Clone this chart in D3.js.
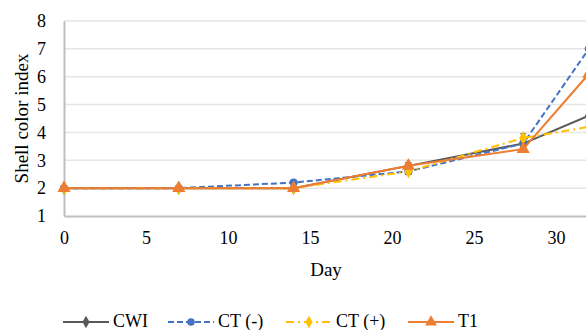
<!DOCTYPE html>
<html>
<head>
<meta charset="utf-8">
<script src="https://cdn.jsdelivr.net/npm/d3@7"></script>
<style>
  body { margin: 0; background: #fff; }
  svg text { font-family: "Liberation Serif", "DejaVu Serif", serif !important; fill: #000; }
</style>
</head>
<body>
<svg></svg>
<script>
let width = 586;
let height = 330;

// data
let days = [0, 7, 14, 21, 28, 32];
let seriesNames = ['CWI', 'CT (-)', 'CT (+)', 'T1'];
let cwi = [2, 2, 2, 2.8, 3.6, 4.6];
let ctMinus = [2, 2, 2.2, 2.6, 3.6, 7.0];
let ctPlus = [2, 2, 2, 2.6, 3.8, 4.2];
let t1 = [2, 2, 2, 2.8, 3.4, 6.1];
let cwiErr = [0, 0, 0, 0.12, 0.1, 0.2];
let ctMinusErr = [0, 0, 0.05, 0.1, 0.1, 0.2];
let ctPlusErr = [0, 0, 0, 0.1, 0.15, 0.2];
let t1Err = [0, 0, 0, 0.1, 0.1, 0.2];
let xTicks = [0, 5, 10, 15, 20, 25, 30];
let yTicks = [1, 2, 3, 4, 5, 6, 7, 8];

let series = [
    {name: seriesNames[0], values: cwi, err: cwiErr, color: '#595959', dash: null, marker: 'diamond'},
    {name: seriesNames[1], values: ctMinus, err: ctMinusErr, color: '#4472C4', dash: '6,3', marker: 'circle'},
    {name: seriesNames[2], values: ctPlus, err: ctPlusErr, color: '#FFC000', dash: '8,4,2,4', marker: 'diamond'},
    {name: seriesNames[3], values: t1, err: t1Err, color: '#ED7D31', dash: null, marker: 'triangle'}
];

let svg = d3.select('svg')
    .attr('width', width)
    .attr('height', height);

let x = d3.scaleLinear().domain([0, 35]).range([64, 638]);
let y = d3.scaleLinear().domain([1, 8]).range([216, 21]);

// gridlines
svg.append('g')
    .selectAll('line')
    .data(yTicks.slice(1))
    .enter()
    .append('line')
    .attr('x1', x(0)).attr('x2', width)
    .attr('y1', d => y(d)).attr('y2', d => y(d))
    .attr('stroke', '#e6e6e6')
    .attr('stroke-width', 1.5);

// axes
let xAxis = svg.append('g')
    .attr('transform', `translate(0, ${y(1)})`)
    .call(d3.axisBottom(x).tickValues(xTicks).tickSize(0).tickPadding(15));
xAxis.select('.domain').attr('stroke', '#bfbfbf').attr('stroke-width', 2);
xAxis.selectAll('text').style('font-size', '18px');

let yAxis = svg.append('g')
    .attr('transform', `translate(${x(0)}, 0)`)
    .call(d3.axisLeft(y).tickValues(yTicks).tickFormat(d3.format('d')).tickSize(0).tickPadding(18));
yAxis.select('.domain').attr('stroke', '#bfbfbf').attr('stroke-width', 2);
yAxis.selectAll('text').style('font-size', '18px');

// axis titles
svg.append('text')
    .attr('x', 326).attr('y', 276)
    .attr('text-anchor', 'middle')
    .style('font-size', '19px')
    .text('Day');

svg.append('text')
    .attr('transform', `translate(28, ${y(4.5)}) rotate(-90)`)
    .attr('text-anchor', 'middle')
    .style('font-size', '19px')
    .text('Shell color index');

function markerPath(type, size) {
    if (type === 'diamond') return d3.symbol().type(d3.symbolDiamond).size(size)();
    if (type === 'triangle') return d3.symbol().type(d3.symbolTriangle).size(size)();
    return d3.symbol().type(d3.symbolCircle).size(size)();
}

let line = d3.line()
    .x((d, i) => x(days[i]))
    .y(d => y(d));

let plot = svg.append('g');

series.forEach(s => {
    let g = plot.append('g');
    // error bars
    days.forEach((day, i) => {
        if (s.err[i] <= 0) return;
        let cx = x(day);
        let top = y(s.values[i] + s.err[i]);
        let bot = y(s.values[i] - s.err[i]);
        g.append('path')
            .attr('d', `M${cx},${top}V${bot}M${cx - 3},${top}H${cx + 3}M${cx - 3},${bot}H${cx + 3}`)
            .attr('stroke', '#595959')
            .attr('stroke-width', 1)
            .attr('fill', 'none');
    });
    g.append('path')
        .datum(s.values)
        .attr('d', line)
        .attr('fill', 'none')
        .attr('stroke', s.color)
        .attr('stroke-width', 2)
        .attr('stroke-dasharray', s.dash);
    g.selectAll('path.mk')
        .data(s.values)
        .enter()
        .append('path')
        .classed('mk', true)
        .attr('d', markerPath(s.marker, s.marker === 'triangle' ? 75 : 55))
        .attr('transform', (d, i) => `translate(${x(days[i])}, ${y(d)})`)
        .attr('fill', s.color);
});

// legend
let legendX = [63, 168, 286, 408];
let legend = svg.append('g');
series.forEach((s, i) => {
    let lx = legendX[i];
    let ly = 322;
    legend.append('line')
        .attr('x1', lx).attr('x2', lx + 46)
        .attr('y1', ly).attr('y2', ly)
        .attr('stroke', s.color)
        .attr('stroke-width', 2)
        .attr('stroke-dasharray', s.dash);
    legend.append('path')
        .attr('d', markerPath(s.marker, s.marker === 'triangle' ? 60 : 45))
        .attr('transform', `translate(${lx + 23}, ${ly})`)
        .attr('fill', s.color);
    legend.append('text')
        .attr('x', lx + 50).attr('y', ly + 5)
        .style('font-size', '18px')
        .text(s.name);
});
</script>
</body>
</html>
